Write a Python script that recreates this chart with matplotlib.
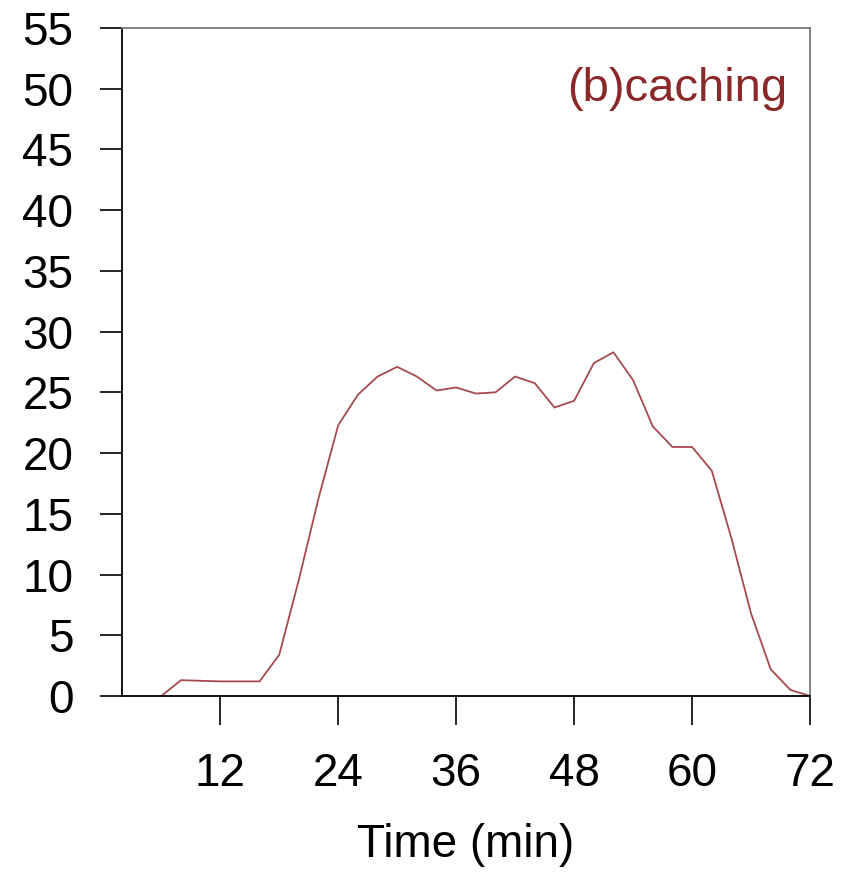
import numpy as np
import matplotlib
matplotlib.use("Agg")
import matplotlib.pyplot as plt

plt.rcParams['font.family'] = ['Liberation Sans', 'DejaVu Sans']

# data (time in minutes)
time_min = [6, 8, 10, 12, 14, 16, 18, 20, 22, 24, 26, 28, 30, 32, 34, 36, 38,
            40, 42, 44, 46, 48, 50, 52, 54, 56, 58, 60, 62, 64, 66, 68, 70, 72]
caching = [0.0, 1.3, 1.25, 1.2, 1.2, 1.2, 3.4, 9.6, 16.3, 22.3, 24.8, 26.3,
           27.1, 26.3, 25.15, 25.4, 24.9, 25.0, 26.3, 25.75, 23.75, 24.3,
           27.4, 28.3, 26.0, 22.2, 20.5, 20.5, 18.55, 13.0, 6.8, 2.2, 0.5, 0.0]
x_ticks = [12, 24, 36, 48, 60, 72]
y_ticks = list(range(0, 56, 5))

fig = plt.figure(figsize=(8.48, 8.85), dpi=100)
ax = fig.add_axes([0.1439, 0.2136, 0.8113, 0.7548])

ax.plot(time_min, caching, color='#a64a4e', lw=1.3)

ax.set_xlim(2, 72)
ax.set_ylim(0, 55)
ax.set_xticks(x_ticks)
ax.set_yticks(y_ticks)

ax.tick_params(axis='y', direction='out', length=16, width=1.2, pad=19, labelsize=33)
ax.tick_params(axis='x', direction='out', length=21, width=1.2, pad=19, labelsize=33)
for s in ax.spines.values():
    s.set_linewidth(1.3)
ax.spines['top'].set_color('#777777')
ax.spines['right'].set_color('#777777')

ax.set_xlabel('Time (min)', fontsize=33, labelpad=20)

ax.text(0.967, 0.908, '(b)caching', transform=ax.transAxes, ha='right',
        va='center', fontsize=34, color='#8b2828')

fig.savefig('out.png', dpi=100)
